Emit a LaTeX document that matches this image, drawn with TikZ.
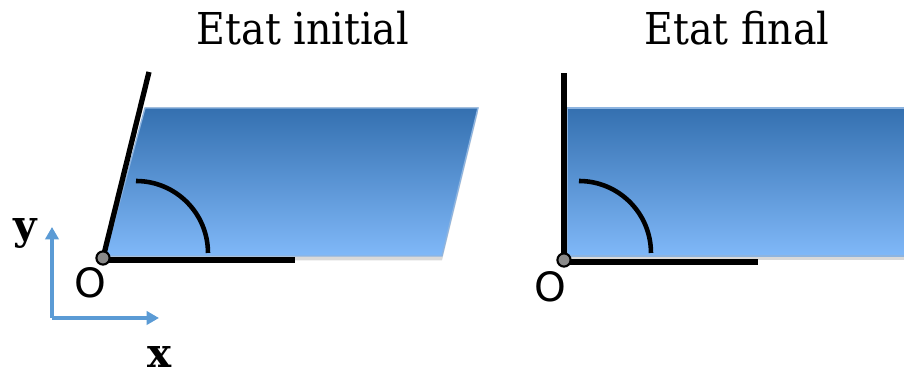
\documentclass[tikz,border=0pt]{standalone}
\usepackage{fontspec}
\usetikzlibrary{arrows.meta,shadows}
\newfontfamily\titlefont{DejaVu Serif Condensed}
\newfontfamily\axisfont{DejaVu Serif}
\newfontfamily\pointfont{DejaVu Sans}
\definecolor{slabtop}{HTML}{3470B0}
\definecolor{slabbot}{HTML}{80B8F8}
\definecolor{slabedge}{HTML}{8DB4E0}
\definecolor{axisblue}{HTML}{5B9BD5}
\definecolor{pin}{HTML}{8A8A8A}
\tikzset{
  slab/.style   ={top color=slabtop, bottom color=slabbot, draw=slabedge,
                  line width=0.8pt,
                  drop shadow={shadow xshift=0pt, shadow yshift=-2.5pt, opacity=0.3}},
  side/.style   ={line width=3pt, black},
  angarc/.style ={line width=2.6pt, black},
  pivot/.style  ={circle, fill=pin, draw=black, line width=1.2pt,
                  inner sep=0pt, minimum size=7.5pt},
  axis/.style   ={line width=2pt, axisblue,
                  -{Triangle[length=7pt, width=7.5pt]}},
  title/.style  ={font=\titlefont\fontsize{25}{30}\selectfont, anchor=base},
  origin/.style ={font=\pointfont\fontsize{23}{27}\selectfont, inner sep=0pt},
  axlabel/.style={font=\axisfont\bfseries\fontsize{23}{27}\selectfont,
                  anchor=base, inner sep=0pt},
}
\begin{document}
\begin{tikzpicture}[x=0.02cm, y=-0.02cm]
    \useasboundingbox (0,0) rectangle (904,377);
    % titles
    \node[title] (tinit) at (303,45) {Etat initial};
    \node[title] (tfin)  at (737,45) {Etat final};
    % initial state: sheared block
    \fill[slab] (105,256) -- (145,108) -- (478,108) -- (442,256) -- cycle;
    \coordinate (O1) at (103,258);
    \coordinate (A1) at (149,72);
    \coordinate (B1) at (295,260);
    \draw[side] (O1) -- (A1);
    \draw[side] (103,260) -- (B1);
    \draw[angarc] (136,181) arc[start angle=90, end angle=0, radius=1.44cm];
    \node[pivot] (p1) at (O1) {};
    \node[origin] (o1) at (90,283) {O};
    % final state: straight block
    \fill[slab] (567,256) -- (567,108) -- (910,108) -- (910,256) -- cycle;
    \coordinate (O2) at (564,260);
    \coordinate (A2) at (564,73);
    \coordinate (B2) at (758,262);
    \draw[side] (O2) -- (A2);
    \draw[side] (564,262) -- (B2);
    \draw[angarc] (579,181) arc[start angle=90, end angle=0, radius=1.44cm];
    \node[pivot] (p2) at (O2) {};
    \node[origin] (o2) at (550,287) {O};
    % axes
    \coordinate (ax) at (52,318);
    \coordinate (ay) at (52,227);
    \coordinate (axx) at (159,318);
    \draw[axis] (ax) -- (ay);
    \draw[axis] (ax) -- (axx);
    \node[axlabel] (ly) at (25,240) {y};
    \node[axlabel] (lx) at (160,368) {x};
\end{tikzpicture}
\end{document}
